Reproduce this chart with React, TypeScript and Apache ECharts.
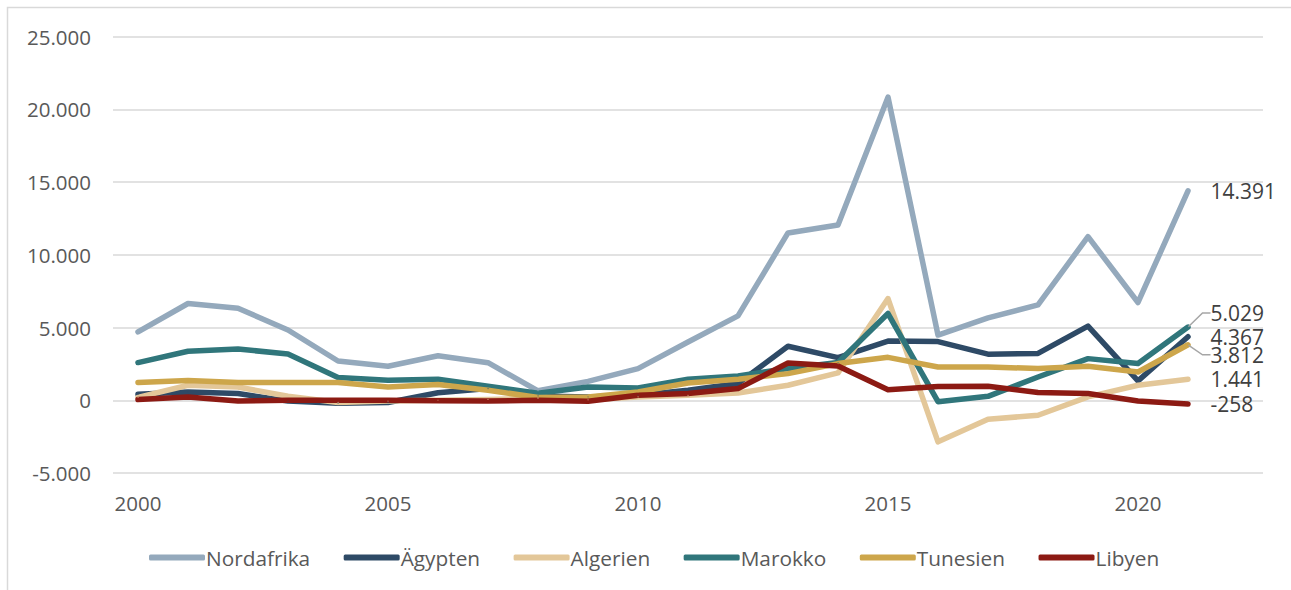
import React, { useEffect, useRef } from "react";
import * as echarts from "echarts";

const years = [
  "2000", "2001", "2002", "2003", "2004", "2005", "2006", "2007", "2008", "2009", "2010",
  "2011", "2012", "2013", "2014", "2015", "2016", "2017", "2018", "2019", "2020", "2021", "2022",
];

const nordafrika = [4700, 6650, 6330, 4830, 2700, 2340, 3060, 2580, 650, 1300, 2170, 4000, 5800, 11500, 12050, 20830, 4480, 5660, 6560, 11240, 6720, 14391];
const aegypten = [410, 570, 460, -50, -200, -150, 520, 800, 300, 230, 340, 690, 1150, 3710, 2930, 4070, 4030, 3170, 3220, 5090, 1330, 4367];
const algerien = [200, 1030, 910, 270, -150, -50, 0, 50, 140, 30, 230, 340, 500, 1030, 1880, 6990, -2860, -1310, -1030, 230, 1030, 1441];
const marokko = [2590, 3370, 3520, 3180, 1560, 1370, 1440, 960, 480, 910, 850, 1440, 1670, 2180, 2590, 5960, -100, 270, 1600, 2860, 2520, 5029];
const tunesien = [1220, 1350, 1220, 1220, 1220, 910, 1080, 690, 190, 230, 570, 1190, 1440, 1830, 2520, 2950, 2290, 2290, 2180, 2340, 1940, 3812];
const libyen = [50, 230, -50, 0, 0, 0, -30, -50, 0, -70, 340, 460, 800, 2560, 2360, 720, 940, 960, 530, 460, -50, -258];

const seriesNames = ["Nordafrika", "Ägypten", "Algerien", "Marokko", "Tunesien", "Libyen"];
const seriesData = [nordafrika, aegypten, algerien, marokko, tunesien, libyen];
const seriesColors = ["#94A9BC", "#2E4A66", "#E3C799", "#30767B", "#CDA64B", "#8C1A13"];
const endLabelShift = [0, 0, 0, -14, 10, 0];

const FONT = "'Open Sans', sans-serif";

function fmt(v: number): string {
  const neg = v < 0;
  const s = Math.round(Math.abs(v)).toString();
  const withSep = s.replace(/\B(?=(\d{3})+(?!\d))/g, ".");
  return (neg ? "-" : "") + withSep;
}

export default function App() {
  const ref = useRef<HTMLDivElement>(null);

  useEffect(() => {
    if (!ref.current) return;
    const chart = echarts.init(ref.current, undefined, { renderer: "svg" });

    const series = seriesNames.map((name, si) => {
      const arr = seriesData[si];
      const data = arr.map((v, i) => {
        if (i === arr.length - 1) {
          return {
            value: v,
            label: {
              show: true,
              position: "right",
              distance: 22,
              formatter: () => fmt(v),
              fontFamily: FONT,
              fontSize: 21,
              color: "#404040",
            },
          };
        }
        return { value: v };
      });
      const s: any = {
        name,
        type: "line",
        data,
        symbol: "circle",
        symbolSize: 1,
        showSymbol: true,
        itemStyle: { color: seriesColors[si] },
        lineStyle: { width: 5.5, color: seriesColors[si], cap: "round", join: "round" },
        label: { show: false },
        emphasis: { disabled: true },
      };
      if (endLabelShift[si] !== 0) {
        s.labelLayout = { dy: endLabelShift[si] };
        s.labelLine = { show: true, length2: 8, lineStyle: { color: "#A6A6A6", width: 1.5 } };
      }
      return s;
    });

    chart.setOption({
      animation: false,
      backgroundColor: "#ffffff",
      textStyle: { fontFamily: FONT },
      grid: { left: 113, right: 28, top: 36.5, bottom: 117 },
      graphic: [
        {
          type: "rect",
          shape: { x: 7.5, y: 7.5, width: 1300, height: 600 },
          style: { fill: "none", stroke: "#D9D9D9", lineWidth: 1.5 },
          silent: true,
        },
      ],
      legend: {
        left: 144,
        top: 542,
        itemWidth: 56,
        itemHeight: 6,
        itemGap: 33.5,
        icon: "roundRect",
        textStyle: { fontFamily: FONT, fontSize: 20.8, color: "#595959", padding: [0, 0, 0, -4] },
        data: seriesNames,
      },
      xAxis: {
        type: "category",
        data: years,
        boundaryGap: true,
        axisLine: { show: false },
        axisTick: { show: false },
        axisLabel: {
          interval: 4,
          margin: 19,
          fontFamily: FONT,
          fontSize: 20.5,
          color: "#595959",
        },
        splitLine: { show: false },
      },
      yAxis: {
        type: "value",
        min: -5000,
        max: 25000,
        interval: 5000,
        axisLine: { show: false },
        axisTick: { show: false },
        axisLabel: {
          margin: 22,
          fontFamily: FONT,
          fontSize: 20.5,
          color: "#595959",
          formatter: (v: number) => fmt(v),
        },
        splitLine: { lineStyle: { color: "#D9D9D9", width: 1.5 } },
      },
      series,
    });

    return () => chart.dispose();
  }, []);

  return (
    <div
      ref={ref}
      style={{ position: "absolute", left: 0, top: 0, width: 1291, height: 590 }}
    />
  );
}
